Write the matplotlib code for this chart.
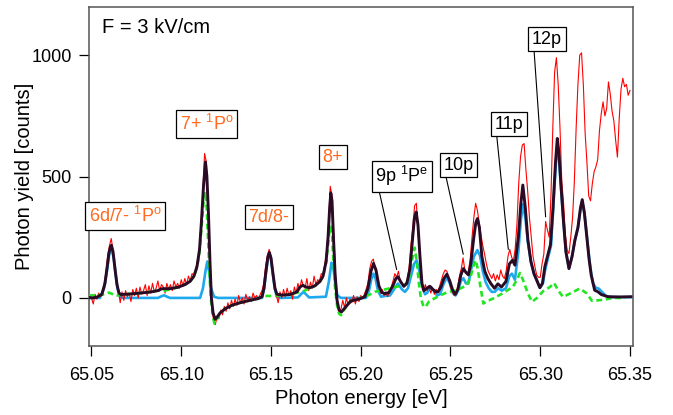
import numpy as np
import matplotlib
matplotlib.use("Agg")
import matplotlib.pyplot as plt

plt.rcParams['font.family'] = ['Liberation Sans', 'DejaVu Sans']
plt.rcParams['mathtext.fontset'] = 'custom'
plt.rcParams['mathtext.rm'] = 'Liberation Sans'
plt.rcParams['mathtext.it'] = 'Liberation Sans:italic'

# ─── data ─────────────────────────────────────────────────
# measured spectrum, sampled every 1 meV from 65.050 eV
RED_E_START = 65.050
RED_E_STEP = 0.001
RED_Y = [
    0, -25, 15, -5, 20, 5, 25, 45, 100, 170,
    215, 245, 195, 130, 60, 30, -20, 25, -10, 30,
    5, 20, -15, 35, 10, 40, 0, 45, 15, 30,
    55, 10, 50, 20, 60, 25, 40, 70, 30, 55,
    45, 20, 60, 35, 55, 30, 70, 45, 60, 40,
    75, 50, 80, 55, 90, 70, 100, 95, 115, 150,
    190, 300, 430, 595, 560, 330, 140, -20, -95, -110,
    -75, -85, -50, -70, -35, -55, -20, -45, -10, -35,
    -5, -30, 10, -20, 0, -25, 15, -10, 5, -15,
    20, 0, 10, -5, 15, 30, 60, 130, 175, 200,
    170, 110, 45, 10, -20, 25, 0, 35, 5, 40,
    10, 30, -5, 45, 20, 60, 35, 75, 50, 40,
    80, 30, 65, 40, 90, 55, 75, 70, 100, 95,
    140, 190, 300, 460, 420, 260, 90, -20, -60, -45,
    -10, -40, 0, -30, -5, -20, 10, -25, 5, -15,
    10, 0, 15, 35, 60, 120, 150, 160, 120, 80,
    50, 20, 35, 10, 25, 5, 30, 45, 70, 100,
    85, 110, 70, 55, 45, 60, 75, 130, 220, 290,
    380, 390, 260, 150, 60, 25, 55, 30, 50, 20,
    40, 15, 35, 25, 50, 75, 100, 115, 110, 80,
    45, 25, 10, 20, 45, 90, 120, 165, 115, 100,
    110, 160, 250, 330, 390, 360, 310, 260, 215, 180,
    140, 110, 95, 80, 100, 70, 95, 75, 115, 90,
    80, 110, 170, 200, 170, 150, 200, 300, 470, 580,
    630, 636, 530, 440, 330, 250, 170, 130, 95, 85,
    85, 140, 180, 315, 280, 250, 430, 700, 930, 990,
    880, 700, 480, 390, 260, 196, 183, 250, 330, 480,
    700, 880, 1000, 1010, 880, 680, 560, 420, 400, 470,
    520, 540, 570, 690, 760, 808, 750, 780, 890, 840,
    770, 730, 650, 580, 740, 860, 905, 870, 880, 835,
    855,
]

# total fit
BLACK_E = [
    65.0486, 65.0503, 65.0531, 65.0558, 65.0575, 65.0586, 65.0597, 65.0606, 65.0611, 65.0620,
    65.0631, 65.0642, 65.0653, 65.0664, 65.0714, 65.0770, 65.0826, 65.0870, 65.0893, 65.0909,
    65.0937, 65.0982, 65.1021, 65.1049, 65.1071, 65.1088, 65.1102, 65.1113, 65.1124, 65.1135,
    65.1143, 65.1152, 65.1160, 65.1168, 65.1177, 65.1188, 65.1199, 65.1216, 65.1244, 65.1283,
    65.1327, 65.1383, 65.1427, 65.1450, 65.1461, 65.1472, 65.1483, 65.1491, 65.1500, 65.1511,
    65.1522, 65.1533, 65.1561, 65.1606, 65.1645, 65.1661, 65.1678, 65.1695, 65.1717, 65.1745,
    65.1773, 65.1790, 65.1807, 65.1818, 65.1826, 65.1833, 65.1840, 65.1848, 65.1857, 65.1868,
    65.1879, 65.1893, 65.1907, 65.1924, 65.1946, 65.1973, 65.2001, 65.2023, 65.2040, 65.2057,
    65.2071, 65.2085, 65.2101, 65.2118, 65.2135, 65.2157, 65.2179, 65.2196, 65.2207, 65.2224,
    65.2240, 65.2257, 65.2274, 65.2288, 65.2299, 65.2309, 65.2319, 65.2330, 65.2341, 65.2352,
    65.2369, 65.2385, 65.2402, 65.2419, 65.2430, 65.2447, 65.2463, 65.2480, 65.2496, 65.2513,
    65.2527, 65.2541, 65.2558, 65.2572, 65.2586, 65.2600, 65.2613, 65.2630, 65.2641, 65.2650,
    65.2661, 65.2675, 65.2691, 65.2708, 65.2725, 65.2745, 65.2764, 65.2784, 65.2809, 65.2828,
    65.2845, 65.2859, 65.2878, 65.2892, 65.2903, 65.2917, 65.2931, 65.2948, 65.2965, 65.2982,
    65.2998, 65.3012, 65.3026, 65.3043, 65.3057, 65.3071, 65.3085, 65.3095, 65.3104, 65.3115,
    65.3129, 65.3143, 65.3160, 65.3177, 65.3193, 65.3210, 65.3224, 65.3234, 65.3246, 65.3260,
    65.3272, 65.3284, 65.3303, 65.3322, 65.3340, 65.3377, 65.3444, 65.3505,
]
BLACK_Y = [
    2, 0, 3, 15, 60, 120, 185, 212, 217, 190,
    120, 55, 20, 14, 16, 20, 24, 30, 38, 38,
    38, 44, 55, 68, 90, 130, 200, 320, 460, 560,
    500, 340, 150, 0, -60, -88, -80, -62, -45, -30,
    -20, -10, -3, 5, 40, 110, 170, 187, 165, 100,
    40, 15, 12, 14, 25, 45, 52, 45, 42, 50,
    68, 90, 150, 250, 360, 433, 400, 250, 100, -10,
    -50, -58, -45, -30, -12, -8, -2, 5, 40, 110,
    142, 115, 50, 22, 18, 22, 50, 80, 87, 65,
    48, 60, 120, 240, 330, 354, 300, 170, 60, 30,
    40, 48, 35, 25, 25, 45, 80, 98, 70, 30,
    15, 35, 95, 121, 105, 95, 140, 250, 310, 327,
    290, 170, 110, 80, 59, 40, 58, 45, 68, 140,
    155, 135, 250, 390, 465, 370, 240, 150, 100, 70,
    42, 60, 130, 180, 220, 370, 560, 657, 600, 470,
    320, 190, 121, 170, 238, 290, 370, 405, 350, 250,
    160, 94, 32, 25, 14, 5, 4, 5,
]

# first fit component (blue)
BLUE_E = [
    65.0486, 65.0547, 65.0570, 65.0586, 65.0600, 65.0611, 65.0623, 65.0634, 65.0645, 65.0659,
    65.0675, 65.0870, 65.0887, 65.0904, 65.0921, 65.0937, 65.1105, 65.1121, 65.1135, 65.1145,
    65.1155, 65.1166, 65.1183, 65.1205, 65.1450, 65.1461, 65.1472, 65.1483, 65.1491, 65.1500,
    65.1511, 65.1522, 65.1533, 65.1550, 65.1650, 65.1667, 65.1681, 65.1695, 65.1712, 65.1806,
    65.1823, 65.1837, 65.1845, 65.1856, 65.1870, 65.1890, 65.2029, 65.2046, 65.2060, 65.2071,
    65.2082, 65.2096, 65.2113, 65.2135, 65.2163, 65.2185, 65.2207, 65.2230, 65.2246, 65.2263,
    65.2280, 65.2297, 65.2311, 65.2324, 65.2341, 65.2358, 65.2369, 65.2391, 65.2408, 65.2425,
    65.2441, 65.2463, 65.2480, 65.2496, 65.2513, 65.2528, 65.2542, 65.2558, 65.2572, 65.2586,
    65.2600, 65.2613, 65.2630, 65.2650, 65.2664, 65.2680, 65.2696, 65.2713, 65.2730, 65.2747,
    65.2764, 65.2786, 65.2809, 65.2828, 65.2842, 65.2859, 65.2878, 65.2892, 65.2903, 65.2917,
    65.2931, 65.2948, 65.2965, 65.2982, 65.2998, 65.3015, 65.3026, 65.3043, 65.3060, 65.3071,
    65.3085, 65.3095, 65.3104, 65.3115, 65.3129, 65.3143, 65.3160, 65.3177, 65.3193, 65.3210,
    65.3224, 65.3234, 65.3246, 65.3260, 65.3272, 65.3283, 65.3294, 65.3310, 65.3327, 65.3344,
    65.3366, 65.3399, 65.3505,
]
BLUE_Y = [
    0, 0, 40, 110, 185, 200, 170, 100, 40, 5,
    0, 0, 6, 11, 5, 0, 0, 40, 110, 150,
    110, 40, 5, 0, 0, 35, 105, 165, 182, 160,
    95, 35, 5, 0, 2, 15, 25, 15, 2, 5,
    70, 145, 140, 70, 10, 0, 0, 30, 80, 100,
    80, 30, 5, 8, 10, 35, 59, 35, 25, 40,
    90, 140, 155, 120, 50, 15, 20, 45, 30, 10,
    15, 60, 85, 60, 20, 10, 30, 70, 81, 60,
    60, 110, 170, 197, 175, 110, 65, 40, 25, 25,
    40, 30, 40, 90, 100, 75, 190, 320, 386, 330,
    230, 150, 100, 70, 42, 60, 110, 165, 215, 350,
    530, 622, 580, 460, 320, 190, 121, 170, 235, 290,
    365, 398, 350, 255, 170, 105, 60, 42, 38, 25,
    8, 3, 3,
]

# second fit component (green, dashed)
GREEN_E = [
    65.0486, 65.0547, 65.0575, 65.0597, 65.0620, 65.0648, 65.0664, 65.0770, 65.0870, 65.0909,
    65.0982, 65.1021, 65.1049, 65.1071, 65.1088, 65.1102, 65.1113, 65.1124, 65.1132, 65.1141,
    65.1149, 65.1157, 65.1166, 65.1177, 65.1185, 65.1194, 65.1205, 65.1216, 65.1244, 65.1283,
    65.1327, 65.1383, 65.1427, 65.1466, 65.1494, 65.1533, 65.1606, 65.1645, 65.1678, 65.1717,
    65.1745, 65.1773, 65.1790, 65.1807, 65.1818, 65.1826, 65.1833, 65.1840, 65.1848, 65.1857,
    65.1868, 65.1879, 65.1890, 65.1907, 65.1924, 65.1946, 65.1973, 65.2001, 65.2040, 65.2079,
    65.2135, 65.2191, 65.2246, 65.2268, 65.2284, 65.2301, 65.2312, 65.2324, 65.2335, 65.2350,
    65.2363, 65.2380, 65.2425, 65.2480, 65.2535, 65.2591, 65.2613, 65.2627, 65.2641, 65.2652,
    65.2664, 65.2683, 65.2708, 65.2736, 65.2791, 65.2847, 65.2870, 65.2887, 65.2904, 65.2931,
    65.2954, 65.2982, 65.3015, 65.3054, 65.3077, 65.3099, 65.3127, 65.3166, 65.3221, 65.3260,
    65.3288, 65.3350, 65.3405, 65.3472,
]
GREEN_Y = [
    10, 12, 15, 22, 15, 10, 14, 20, 30, 30,
    44, 55, 68, 88, 125, 190, 290, 390, 437, 380,
    250, 100, -10, -80, -106, -95, -80, -62, -45, -30,
    -20, -10, -3, 8, 8, 10, 14, 22, 27, 40,
    50, 68, 88, 145, 220, 280, 293, 260, 150, 40,
    -30, -65, -71, -50, -30, -12, -8, 0, 10, 25,
    35, 45, 52, 80, 150, 207, 150, 60, 0, -37,
    -35, -15, 4, 23, 32, 52, 90, 130, 155, 120,
    59, -23, -12, -3, 19, 45, 75, 103, 74, 19,
    -16, 0, 27, 45, 62, 32, 4, 18, 39, 18,
    -12, -8, 0, 0,
]

# labels: (text, x, y)
ORANGE_LABELS = [
    (r"6d/7- $^{1}$P$^{\mathrm{o}}$", 65.0687, 337),
    (r"7+ $^{1}$P$^{\mathrm{o}}$", 65.1143, 716),
    ("7d/8-", 65.1487, 333),
    ("8+", 65.1845, 580),
]
# leader labels: (text, box x, box y, peak x, peak y)
LEADER_LABELS = [
    (r"9p $^{1}$P$^{\mathrm{e}}$", 65.2230, 501, 65.2200, 117),
    ("10p", 65.2545, 547, 65.2571, 180),
    ("11p", 65.2826, 716, 65.2822, 200),
    ("12p", 65.3038, 1066, 65.3030, 334),
]
X_TICKS = [65.05, 65.10, 65.15, 65.20, 65.25, 65.30, 65.35]
Y_TICKS = [0, 500, 1000]

# ─── plot ────────────────────────────────────────────────
fig = plt.figure(figsize=(6.73, 4.15), dpi=100)
ax = fig.add_axes([0.1322, 0.1663, 0.8079, 0.8176])

red_e = RED_E_START + RED_E_STEP * np.arange(len(RED_Y))
ax.plot(BLUE_E, BLUE_Y, color="#1ea8ee", lw=1.9, zorder=2)
ax.plot(red_e, RED_Y, color="#ff0000", lw=0.8, zorder=3)
ax.plot(GREEN_E, GREEN_Y, color="#22e622", lw=1.9, dashes=(2.2, 1.4), zorder=4)
ax.plot(BLACK_E, BLACK_Y, color="#2a0a24", lw=2.1, zorder=5)

box = dict(boxstyle="square,pad=0.2", fc="white", ec="black", lw=0.9)
for txt, x, y in ORANGE_LABELS:
    ax.text(x, y, txt, color="#ff6a1f", fontsize=13, ha="center", va="center",
            bbox=box, zorder=6)
for txt, bx, by, px, py in LEADER_LABELS:
    ax.annotate(txt, xy=(px, py), xytext=(bx, by), fontsize=13, ha="center", va="center",
                bbox=box, zorder=6,
                arrowprops=dict(arrowstyle="-", lw=0.8, color="black",
                                shrinkA=0, shrinkB=0, relpos=(0.06, 0.0)))

ax.text(0.024, 0.94, "F = 3 kV/cm", transform=ax.transAxes, fontsize=14.5,
        ha="left", va="center")

ax.set_xlim(65.0486, 65.3515)
ax.set_ylim(-198, 1200)
ax.set_xticks(X_TICKS)
ax.set_xticklabels([f"{t:.2f}" for t in X_TICKS])
ax.set_yticks(Y_TICKS)
ax.tick_params(direction="out", length=7, width=0.9, labelsize=13)
ax.tick_params(axis="x", pad=8)
ax.tick_params(axis="y", pad=5.5)
for s in ax.spines.values():
    s.set_color("#555555"); s.set_linewidth(1.1)
ax.set_xlabel("Photon energy [eV]", fontsize=14.5)
ax.set_ylabel("Photon yield [counts]", fontsize=14.5)
ax.xaxis.set_label_coords(0.5, -0.128)
ax.yaxis.set_label_coords(-0.101, 0.5)

fig.savefig("out.png", dpi=100)
